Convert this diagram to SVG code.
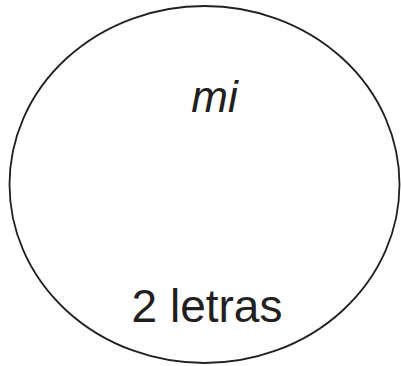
<svg xmlns="http://www.w3.org/2000/svg" width="401" height="366" viewBox="0 0 401 366">
<style>
.t{font-family:"Liberation Sans",Arial,sans-serif;fill:#231f20;text-anchor:middle}
</style>
<rect width="401" height="366" fill="#fff"/>
<g id="set">
<ellipse cx="204.5" cy="184.5" rx="195" ry="178.5" fill="none" stroke="#231f20" stroke-width="1.8"/>
<text class="t" x="214.5" y="111.5" font-size="44" font-style="italic">mi</text>
<text class="t" x="207" y="321.5" font-size="46">2 letras</text>
</g>
</svg>
